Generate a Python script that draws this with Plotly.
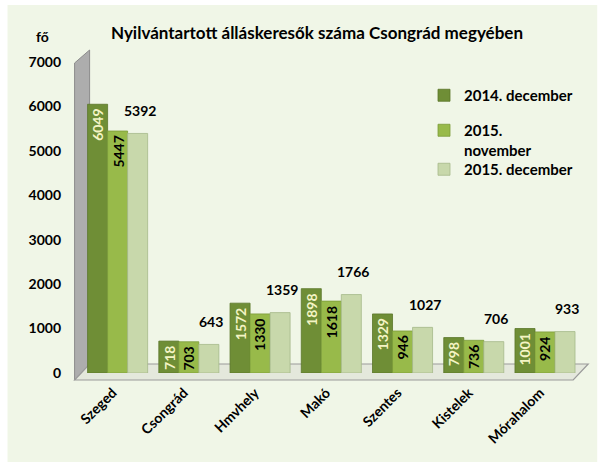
import plotly.graph_objects as go

categories = ["Szeged", "Csongrád", "Hmvhely", "Makó", "Szentes", "Kistelek", "Mórahalom"]
series_names = ["2014. december", "2015.<br>november", "2015. december"]
dec2014 = [6049, 718, 1572, 1898, 1329, 798, 1001]
nov2015 = [5447, 703, 1330, 1618, 946, 736, 924]
dec2015 = [5392, 643, 1359, 1766, 1027, 706, 933]
y_ticks = [0, 1000, 2000, 3000, 4000, 5000, 6000, 7000]

colors = ["#6f8e36", "#98ba4a", "#c8d8ab"]
FONT = "Lato"

# plot area geometry in pixels (for decorations)
L, T, W, H = 82.4, 62.0, 498.4, 311.0


def px(x):
    return (x - L) / W


def py(y):
    return (T + H - y) / H


fig = go.Figure()

fig.add_trace(go.Bar(
    x=categories, y=dec2014, name=series_names[0], marker_color=colors[0],
    marker_line=dict(color="#5a7629", width=0.8), legend="legend"))
fig.add_trace(go.Bar(
    x=categories, y=nov2015, name=series_names[1], marker_color=colors[1],
    marker_line=dict(color="#7b9c38", width=0.8), legend="legend2"))
fig.add_trace(go.Bar(
    x=categories, y=dec2015, name=series_names[2], marker_color=colors[2],
    marker_line=dict(color="#a6b98a", width=0.8), legend="legend3"))

# rotated value labels inside the first two series (near bar tops)
for vals, shift, col in [(dec2014, -20, "#f4f4c4"), (nov2015, 0, "#000000")]:
    for c, v in zip(categories, vals):
        fig.add_annotation(x=c, y=v, text=str(v), showarrow=False, textangle=-90,
                           xanchor="center", yanchor="top", xshift=shift, yshift=-3,
                           font=dict(family=FONT, size=14, color=col, weight="bold"))

# horizontal labels above the third series
for c, v in zip(categories, dec2015):
    fig.add_annotation(x=c, y=v, text=str(v), showarrow=False, xshift=22, yshift=23,
                       font=dict(family=FONT, size=14, color="#000000", weight="bold"))

# "fő" unit label
fig.add_annotation(xref="paper", yref="paper", x=px(43), y=py(37), text="fő", showarrow=False,
                   xanchor="center", yanchor="middle",
                   font=dict(family=FONT, size=14, color="#000000", weight="bold"))

shapes = [
    # panel background
    dict(type="rect", xref="paper", yref="paper", x0=px(8), x1=px(597), y0=py(462), y1=py(5),
         fillcolor="#f0f6e7", line=dict(width=0), layer="below"),
    # back wall
    dict(type="path", xref="paper", yref="paper",
         path=f"M {px(75)},{py(380)} L {px(75)},{py(63)} L {px(90)},{py(50)} L {px(90)},{py(368)} Z",
         fillcolor="#adadad", line=dict(color="#8c8c8c", width=1), layer="below"),
    # floor
    dict(type="path", xref="paper", yref="paper",
         path=f"M {px(75)},{py(380)} L {px(573)},{py(380)} L {px(588)},{py(364)} L {px(90)},{py(364)} Z",
         fillcolor="#e4e8dc", line=dict(color="#9a9a9a", width=1.2), layer="below"),
]

legend_common = dict(bgcolor="rgba(0,0,0,0)", borderwidth=0, xanchor="left", yanchor="top",
                     font=dict(family=FONT, size=15, color="#000000", weight="bold"),
                     itemwidth=30, valign="top")
lx = px(424)

fig.update_layout(
    width=604, height=466,
    margin=dict(l=82, r=23, t=62, b=93),
    paper_bgcolor="#ffffff", plot_bgcolor="rgba(0,0,0,0)",
    barmode="group", bargap=0.157, bargroupgap=0.0,
    title=dict(text="Nyilvántartott álláskeresők száma Csongrád megyében",
               x=317 / 604, xref="container", y=1 - 33 / 466, yref="container",
               xanchor="center", yanchor="middle",
               font=dict(family=FONT, size=17, color="#000000", weight="bold")),
    xaxis=dict(tickangle=-45, showline=False, showgrid=False, ticks="",
               ticklabelstandoff=8, ticklabelshift=-5,
               tickfont=dict(family=FONT, size=14, color="#000000", weight="bold")),
    yaxis=dict(range=[0, 7000], tickvals=y_ticks, showgrid=False, showline=False, zeroline=False,
               ticks="", ticklabelstandoff=20,
               tickfont=dict(family=FONT, size=14, color="#000000", weight="bold")),
    legend=dict(x=lx, y=py(79), **legend_common),
    legend2=dict(x=lx, y=py(114), **legend_common),
    legend3=dict(x=lx, y=py(153), **legend_common),
    shapes=shapes,
    showlegend=True,
)

fig.write_html("out.html", config={"displayModeBar": False},
               post_script="document.body.style.margin='0';")
